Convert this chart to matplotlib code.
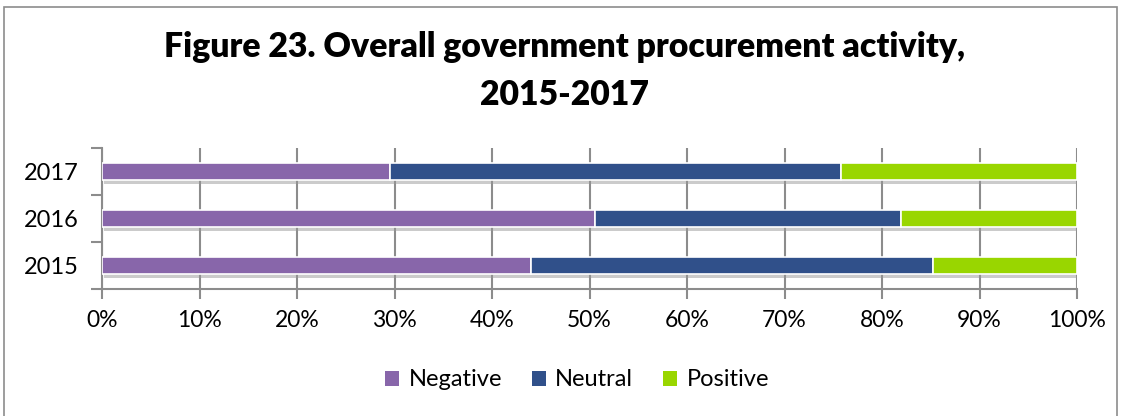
import matplotlib
matplotlib.use("Agg")
import matplotlib.pyplot as plt
import matplotlib.patheffects as pe
from matplotlib.patches import Rectangle

plt.rcParams['font.family'] = ['Lato', 'DejaVu Sans']

years = ['2015', '2016', '2017']
negative = [44.0, 50.6, 29.5]
neutral = [41.2, 31.3, 46.3]
positive = [14.8, 18.1, 24.2]

series_names = ['Negative', 'Neutral', 'Positive']
colors = ['#8866AA', '#30508A', '#99D600']

fig = plt.figure(figsize=(11.29, 4.16), dpi=100)
ax = fig.add_axes([102 / 1129, 1 - 289 / 416, 975 / 1129, 141 / 416])

# outer frame like an Excel chart area
fig.patches.append(Rectangle((4 / 1129, -0.05), 1113 / 1129, 1.04 - 3 / 416,
                             transform=fig.transFigure, fill=False,
                             edgecolor='#8c8c8c', linewidth=1.2))

shadow = [pe.SimplePatchShadow(offset=(1.5, -3), shadow_rgbFace='#999999', alpha=0.5),
          pe.Normal()]

pos = list(range(len(years)))
left = [0.0] * len(years)
for name, vals, col in zip(series_names, [negative, neutral, positive], colors):
    bars = ax.barh(pos, vals, left=left, height=0.37, color=col,
                   edgecolor='white', linewidth=1.2, label=name, zorder=3)
    for b in bars:
        b.set_path_effects(shadow)
    left = [l + v for l, v in zip(left, vals)]

ax.set_xlim(0, 100)
ax.set_ylim(-0.5, 2.5)
ax.set_xticks(range(0, 101, 10))
ax.set_xticklabels([f'{v}%' for v in range(0, 101, 10)])
ax.set_yticks(pos)
ax.set_yticklabels(years)
ax.set_yticks([-0.5, 0.5, 1.5, 2.5], minor=True)
ax.tick_params(axis='y', which='major', length=0, labelsize=17, pad=17)
ax.tick_params(axis='y', which='minor', length=8, width=1.5, color='#8c8c8c')
ax.tick_params(axis='x', length=7, width=1.5, color='#8c8c8c', labelsize=16.5, pad=8)
ax.grid(axis='x', color='#8c8c8c', linewidth=1.5, zorder=0)

for side in ['top', 'right']:
    ax.spines[side].set_visible(False)
for side in ['left', 'bottom']:
    ax.spines[side].set_color('#8c8c8c')
    ax.spines[side].set_linewidth(1.5)

fig.text(0.5, 1 - 47 / 416, 'Figure 23. Overall government procurement activity,',
         ha='center', va='center', fontsize=24.3, fontweight='heavy')
fig.text(0.5, 1 - 95 / 416, '2015-2017', ha='center', va='center',
         fontsize=24.3, fontweight='heavy')

handles, labels = ax.get_legend_handles_labels()
leg = fig.legend(handles, labels, loc='center', bbox_to_anchor=(577 / 1129, 1 - 380 / 416),
                 ncol=3, frameon=False, fontsize=17, handlelength=0.6,
                 handleheight=0.6, columnspacing=1.25, handletextpad=0.4)
for h in leg.legend_handles:
    h.set_path_effects([])
    h.set_edgecolor('none')

fig.savefig('out.png', dpi=100)
